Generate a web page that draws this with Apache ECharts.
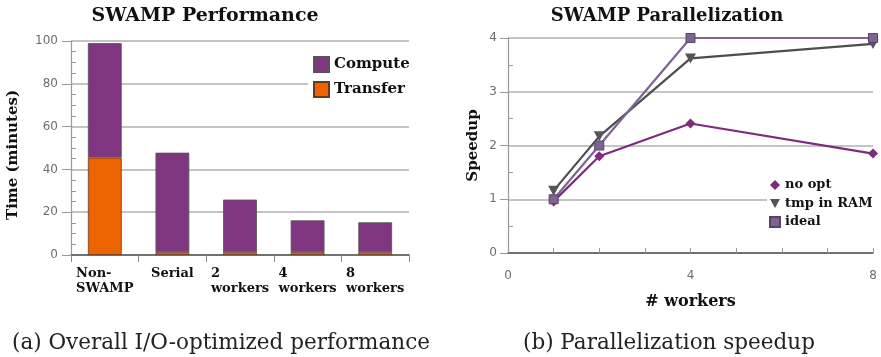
<!DOCTYPE html>
<html>
<head>
<meta charset="utf-8">
<script src="https://cdn.jsdelivr.net/npm/echarts@6/dist/echarts.min.js"></script>
<style>html,body{margin:0;padding:0;background:#fff;}#c{width:881px;height:357px;}</style>
</head>
<body>
<div id="c"></div>
<script>
// ---- data ----
const categories = ['Non-\nSWAMP', 'Serial', '2\nworkers', '4\nworkers', '8\nworkers'];
const transfer = [45.5, 1.3, 1.3, 1.3, 1.3];
const compute = [53.5, 46.5, 24.6, 14.9, 14.0];

const workers = [1, 2, 4, 8];
const noOpt = [0.96, 1.80, 2.41, 1.85];
const tmpInRam = [1.16, 2.17, 3.62, 3.89];
const ideal = [1, 2, 4, 4];
const xTickLabels = [0, 4, 8];

const titles = ['SWAMP Performance', 'SWAMP Parallelization'];
const captions = ['(a) Overall I/O-optimized performance', '(b) Parallelization speedup'];

// ---- styles ----
const SERIF = '"DejaVu Serif", serif';
const SANS = '"DejaVu Sans", sans-serif';
const PURPLE = '#7f3580';
const ORANGE = '#eb6400';
const GRID = '#b0b0b0';
const LBL = '#6e6e6e';

const chart = echarts.init(document.getElementById('c'), null, {renderer: 'canvas'});

function pair(arrX, arrY) { return arrX.map((x, i) => [x, arrY[i]]); }
const downTri = 'path://M0,0 L10,0 L5,9 Z';

const option = {
  animation: false,
  backgroundColor: '#fff',
  title: [
    {text: titles[0], left: 205, top: 7, textAlign: 'center', padding: 0,
     textStyle: {fontFamily: SERIF, fontWeight: 'bold', fontSize: 19, color: '#111'}},
    {text: titles[1], left: 667, top: 7, textAlign: 'center', padding: 0,
     textStyle: {fontFamily: SERIF, fontWeight: 'bold', fontSize: 18, color: '#111'}},
    {text: captions[0], left: 12, top: 332, padding: 0,
     textStyle: {fontFamily: SERIF, fontWeight: 'normal', fontSize: 21.5, color: '#222'}},
    {text: captions[1], left: 523, top: 332, padding: 0,
     textStyle: {fontFamily: SERIF, fontWeight: 'normal', fontSize: 21.5, color: '#222'}}
  ],
  legend: [
    {
      data: ['Compute', 'Transfer'],
      orient: 'vertical', left: 308, top: 51, padding: [5, 4, 5, 5],
      itemWidth: 15, itemHeight: 15, itemGap: 8,
      backgroundColor: '#fff',
      icon: 'rect',
      textStyle: {fontFamily: SERIF, fontWeight: 'bold', fontSize: 15, color: '#111'}
    },
    {
      data: [{name: 'no opt', icon: 'diamond'}, {name: 'tmp in RAM', icon: downTri}, {name: 'ideal', icon: 'rect'}],
      orient: 'vertical', left: 767, top: 174, padding: [4, 6, 4, 2],
      itemWidth: 10, itemHeight: 10, itemGap: 4.5,
      backgroundColor: '#fff',
      textStyle: {fontFamily: SERIF, fontWeight: 'bold', fontSize: 13, lineHeight: 14, color: '#111'}
    }
  ],
  grid: [
    {left: 71, top: 41, width: 338, height: 214, containLabel: false},
    {left: 508, top: 38, width: 365, height: 215, containLabel: false}
  ],
  xAxis: [
    {
      gridIndex: 0, type: 'category', data: categories,
      boundaryGap: true,
      axisLine: {lineStyle: {color: '#555', width: 1.5}},
      axisTick: {show: true, interval: 0, length: 7, alignWithLabel: false, lineStyle: {color: '#888', width: 1}},
      axisLabel: {
        interval: 0, margin: 11,
        formatter: v => v.split('\n').map(s => '{a|' + s + '}').join('\n'),
        rich: {a: {align: 'left', fontFamily: SERIF, fontWeight: 'bold', fontSize: 13, lineHeight: 15, color: '#111'}}
      },
      splitLine: {show: false}
    },
    {
      gridIndex: 1, type: 'value', min: 0, max: 8, interval: 1,
      name: '# workers', nameLocation: 'middle', nameGap: 41,
      nameTextStyle: {fontFamily: SERIF, fontWeight: 'bold', fontSize: 16, color: '#111'},
      axisLine: {lineStyle: {color: '#555', width: 1.5}},
      axisTick: {show: true, inside: true, length: 5, lineStyle: {color: '#999'}},
      axisLabel: {margin: 17, fontFamily: SANS, fontSize: 12, color: LBL,
        formatter: v => xTickLabels.indexOf(v) >= 0 ? String(v) : ''},
      splitLine: {show: false}
    }
  ],
  yAxis: [
    {
      gridIndex: 0, type: 'value', min: 0, max: 100, interval: 20,
      name: 'Time (minutes)', nameLocation: 'middle', nameGap: 50,
      nameTextStyle: {fontFamily: SERIF, fontWeight: 'bold', fontSize: 15, color: '#111', padding: [0, 14, 0, 0]},
      axisLine: {show: true, lineStyle: {color: '#999', width: 1.2}},
      axisTick: {show: true, length: 9, lineStyle: {color: '#999'}},
      minorTick: {show: true, splitNumber: 4, length: -5, lineStyle: {color: '#999'}},
      axisLabel: {margin: 13, fontFamily: SANS, fontSize: 12, color: LBL},
      splitLine: {show: true, lineStyle: {color: GRID, width: 1.5}}
    },
    {
      gridIndex: 1, type: 'value', min: 0, max: 4, interval: 1,
      name: 'Speedup', nameLocation: 'middle', nameGap: 27,
      nameTextStyle: {fontFamily: SERIF, fontWeight: 'bold', fontSize: 15, color: '#111'},
      axisLine: {show: true, lineStyle: {color: '#999', width: 1.2}},
      axisTick: {show: true, length: 8, lineStyle: {color: '#999'}},
      minorTick: {show: true, splitNumber: 2, length: -5, lineStyle: {color: '#999'}},
      axisLabel: {margin: 11, fontFamily: SANS, fontSize: 12, color: LBL},
      splitLine: {show: true, lineStyle: {color: GRID, width: 1.5}}
    }
  ],
  series: [
    {
      name: 'Transfer', type: 'bar', stack: 'time', xAxisIndex: 0, yAxisIndex: 0,
      data: transfer, barWidth: '50%',
      itemStyle: {color: ORANGE, borderColor: '#6a3a20', borderWidth: 0.8}
    },
    {
      name: 'Compute', type: 'bar', stack: 'time', xAxisIndex: 0, yAxisIndex: 0,
      data: compute, barWidth: '50%',
      itemStyle: {color: PURPLE, borderColor: '#555', borderWidth: 0.8}
    },
    {
      name: 'no opt', type: 'line', xAxisIndex: 1, yAxisIndex: 1,
      data: pair(workers, noOpt),
      symbol: 'diamond', symbolSize: 10,
      lineStyle: {color: '#7d2a7f', width: 2.2},
      itemStyle: {color: '#7d2a7f'}
    },
    {
      name: 'tmp in RAM', type: 'line', xAxisIndex: 1, yAxisIndex: 1,
      data: pair(workers, tmpInRam),
      symbol: downTri, symbolSize: [11, 10],
      lineStyle: {color: '#4d4d4d', width: 2.2},
      itemStyle: {color: '#555'}
    },
    {
      name: 'ideal', type: 'line', xAxisIndex: 1, yAxisIndex: 1,
      data: pair(workers, ideal),
      symbol: 'rect', symbolSize: 9,
      lineStyle: {color: '#7e6494', width: 2.2},
      itemStyle: {color: '#7e6494', borderColor: '#55446a', borderWidth: 1}
    }
  ]
};
chart.setOption(option);
</script>
</body>
</html>
